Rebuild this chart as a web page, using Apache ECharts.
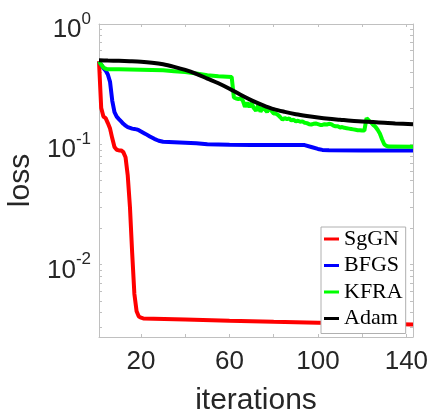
<!DOCTYPE html>
<html>
<head>
<meta charset="utf-8">
<script src="https://cdn.jsdelivr.net/npm/echarts@6/dist/echarts.min.js"></script>
<style>
html, body { margin: 0; padding: 0; background: #fff; }
#main { width: 432px; height: 411px; }
</style>
</head>
<body>
<div id="main"></div>
<script>
// SgGN
var sgIter = [1, 2, 3, 4, 5, 6, 7, 8, 9, 10, 11, 12, 13, 14, 15, 16, 17, 18, 19, 20, 21, 40, 60, 80, 100, 120, 143];
var sgLoss = [0.49, 0.2, 0.17, 0.165, 0.15, 0.135, 0.112, 0.095, 0.09, 0.089, 0.089, 0.086, 0.078, 0.055, 0.03, 0.0125, 0.0057, 0.0041, 0.0037, 0.00362, 0.00357, 0.0035, 0.00342, 0.00335, 0.00329, 0.00323, 0.00318];

// BFGS
var bfIter = [1, 2, 3, 4, 5, 6, 7, 8, 9, 10, 11, 12, 13, 14, 15, 16, 17, 18, 19, 20, 22, 24, 26, 28, 30, 35, 40, 45, 50, 55, 60, 70, 80, 90, 94, 97, 100, 102, 105, 120, 143];
var bfLoss = [0.49, 0.46, 0.43, 0.41, 0.38, 0.33, 0.23, 0.185, 0.17, 0.162, 0.155, 0.148, 0.143, 0.139, 0.137, 0.135, 0.134, 0.133, 0.131, 0.128, 0.122, 0.116, 0.111, 0.107, 0.105, 0.104, 0.103, 0.102, 0.1, 0.0995, 0.099, 0.0988, 0.0988, 0.0988, 0.0985, 0.095, 0.0915, 0.0898, 0.0893, 0.089, 0.089];

// KFRA
var kfIter = [1, 2, 3, 4, 5, 10, 15, 20, 25, 30, 35, 40, 45, 50, 55, 61,
  62, 63, 64, 65, 66, 67, 68, 69, 70, 71, 72, 73, 74, 75, 76, 77, 78, 79, 80, 81, 82, 83, 84, 85, 86, 87, 88, 89, 90,
  91, 92, 93, 94, 95, 96, 97, 98, 99, 100, 101, 102, 103, 104, 105, 106, 107, 108, 109, 110, 111, 112, 113, 114, 115,
  116, 117, 118, 119, 120, 121, 122, 123, 124, 125, 126, 127, 128, 129, 130, 131, 132, 143];
var kfLoss = [0.49, 0.46, 0.435, 0.425, 0.42, 0.42, 0.419, 0.417, 0.415, 0.412, 0.405, 0.398, 0.387, 0.375, 0.368, 0.362,
  0.245, 0.24, 0.238, 0.24, 0.232, 0.205, 0.222, 0.204, 0.22, 0.2, 0.19, 0.212, 0.187, 0.2, 0.195, 0.186, 0.2, 0.19, 0.18, 0.18, 0.175, 0.168, 0.16, 0.165, 0.162, 0.164, 0.158, 0.16, 0.155,
  0.157, 0.154, 0.155, 0.151, 0.15, 0.147, 0.146, 0.148, 0.149, 0.147, 0.145, 0.145, 0.147, 0.146, 0.148, 0.147, 0.143, 0.141, 0.141, 0.138, 0.139, 0.137, 0.136, 0.135, 0.134,
  0.133, 0.132, 0.131, 0.131, 0.13, 0.13, 0.165, 0.158, 0.152, 0.145, 0.14, 0.132, 0.123, 0.11, 0.1, 0.097, 0.0957, 0.0955];

// Adam
var adIter = [1, 5, 10, 15, 20, 25, 30, 35, 40, 45, 50, 55, 60, 65, 70, 75, 80, 85, 90, 95, 100, 105, 110, 115, 120, 125, 130, 135, 143];
var adLoss = [0.5, 0.497, 0.494, 0.49, 0.485, 0.476, 0.462, 0.44, 0.415, 0.385, 0.352, 0.322, 0.29, 0.258, 0.232, 0.212, 0.196, 0.186, 0.178, 0.172, 0.167, 0.163, 0.16, 0.157, 0.155, 0.153, 0.151, 0.149, 0.147];

var xTicks = [20, 40, 60, 80, 100, 120, 140];
var xLabels = [20, 60, 100, 140];
var yTicks = [0.003, 0.004, 0.005, 0.006, 0.007, 0.008, 0.009, 0.01, 0.02, 0.03, 0.04, 0.05, 0.06, 0.07, 0.08, 0.09, 0.1, 0.2, 0.3, 0.4, 0.5, 0.6, 0.7, 0.8, 0.9, 1];
var yLabels = [0.01, 0.1, 1];

function pairs(xs, ys) {
    var out = [];
    for (var i = 0; i < xs.length; i++) out.push([xs[i], ys[i]]);
    return out;
}

function expOf(v) {
    return String(Math.round(Math.log10(v)));
}

var axisGray = '#c0c0c0';
var textDark = '#262626';
var sans = 'Liberation Sans';

var myChart = echarts.init(document.getElementById('main'));

var option = {
    animation: false,
    grid: { left: 99, top: 24, right: 19, bottom: 74, outerBoundsMode: 'none' },
    legend: {
        left: 321, top: 227,
        orient: 'vertical',
        data: ['SgGN', 'BFGS', 'KFRA', 'Adam'],
        icon: 'rect',
        itemWidth: 15, itemHeight: 3,
        itemGap: 4.5,
        padding: [1, 3, 4, 3],
        backgroundColor: '#fff',
        borderColor: '#b0b0b0',
        borderWidth: 1,
        borderRadius: 0,
        textStyle: { fontFamily: 'Liberation Serif', fontSize: 22, color: '#000', lineHeight: 22 }
    },
    xAxis: [
        {
            type: 'value', min: 1, max: 143,
            name: 'iterations', nameLocation: 'middle', nameGap: 49,
            nameTextStyle: { fontFamily: sans, fontSize: 30, color: textDark },
            axisLine: { lineStyle: { color: axisGray, width: 1 } },
            axisTick: { inside: true, length: 3, customValues: xTicks, lineStyle: { color: axisGray } },
            axisLabel: { customValues: xLabels, fontFamily: sans, fontSize: 26, color: textDark, margin: 12 },
            splitLine: { show: false }
        },
        {
            type: 'value', min: 1, max: 143, position: 'top',
            axisLine: { lineStyle: { color: axisGray, width: 1 } },
            axisTick: { inside: true, length: 3, customValues: xTicks, lineStyle: { color: axisGray } },
            axisLabel: { show: false },
            splitLine: { show: false }
        }
    ],
    yAxis: [
        {
            type: 'log', logBase: 10, min: 0.0025, max: 1,
            name: 'loss', nameLocation: 'middle', nameGap: 62,
            nameTextStyle: { fontFamily: sans, fontSize: 30, color: textDark },
            axisLine: { show: true, lineStyle: { color: axisGray, width: 1 } },
            axisTick: { show: true, inside: true, length: 3, customValues: yTicks, lineStyle: { color: axisGray } },
            axisLabel: {
                customValues: yLabels,
                margin: 8,
                verticalAlign: 'top',
                lineHeight: 12,
                formatter: function (v) {
                    return '{b|10}{h|' + expOf(v) + '}';
                },
                rich: {
                    b: { fontFamily: sans, fontSize: 26, color: textDark, lineHeight: 12 },
                    h: { fontFamily: sans, fontSize: 17, color: 'rgba(0,0,0,0)', lineHeight: 12 }
                }
            },
            splitLine: { show: false }
        },
        {
            type: 'log', logBase: 10, min: 0.0025, max: 1, position: 'right',
            axisLine: { show: true, lineStyle: { color: axisGray, width: 1 } },
            axisTick: { show: true, inside: true, length: 3, customValues: yTicks, lineStyle: { color: axisGray } },
            axisLabel: { show: false },
            splitLine: { show: false }
        },
        {
            // exponents of the left tick labels
            type: 'log', logBase: 10, min: 0.0025, max: 1, position: 'left',
            axisLine: { show: false },
            axisTick: { show: false },
            axisLabel: {
                customValues: yLabels,
                margin: 8,
                verticalAlign: 'bottom',
                lineHeight: 10,
                fontFamily: sans, fontSize: 17, color: textDark,
                formatter: expOf
            },
            splitLine: { show: false }
        }
    ],
    series: [
        { name: 'SgGN', type: 'line', data: pairs(sgIter, sgLoss), showSymbol: false, symbol: 'none',
          lineStyle: { color: '#ff0000', width: 4 }, itemStyle: { color: '#ff0000' } },
        { name: 'BFGS', type: 'line', data: pairs(bfIter, bfLoss), showSymbol: false, symbol: 'none',
          lineStyle: { color: '#0000ff', width: 4 }, itemStyle: { color: '#0000ff' } },
        { name: 'KFRA', type: 'line', data: pairs(kfIter, kfLoss), showSymbol: false, symbol: 'none',
          lineStyle: { color: '#00ff00', width: 4 }, itemStyle: { color: '#00ff00' } },
        { name: 'Adam', type: 'line', data: pairs(adIter, adLoss), showSymbol: false, symbol: 'none', smooth: 0.3,
          lineStyle: { color: '#000000', width: 4 }, itemStyle: { color: '#000000' } }
    ]
};

myChart.setOption(option);
</script>
</body>
</html>
